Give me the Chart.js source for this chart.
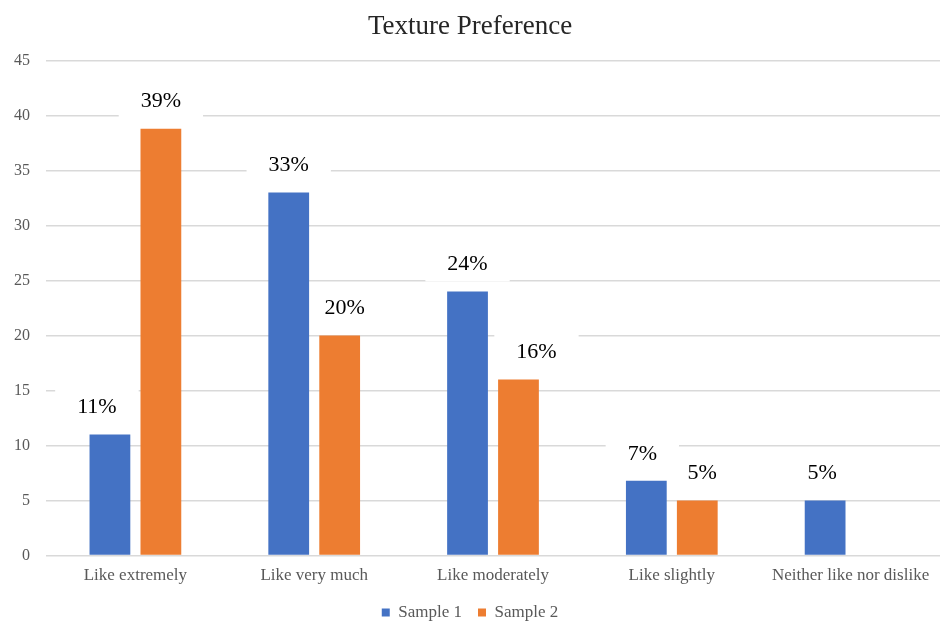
<!DOCTYPE html>
<html>
<head>
<meta charset="utf-8">
<script src="https://cdn.jsdelivr.net/npm/chart.js@4/dist/chart.umd.min.js"></script>
<style>
  html, body { margin: 0; padding: 0; background: #fff; }
  #wrap { width: 942px; height: 622px; }
</style>
</head>
<body>
<div id="wrap"><canvas id="chart"></canvas></div>
<script>
const categories = ['Like extremely', 'Like very much', 'Like moderately', 'Like slightly', 'Neither like nor dislike'];
const sample1 = [11, 33, 24, 6.8, 5];
const sample2 = [38.8, 20, 16, 5, 0];
const seriesNames = ['Sample 1', 'Sample 2'];

const serif = '"Liberation Serif", "Times New Roman", serif';

// labels above each bar, on a white box that hides the gridlines behind it
const barLabels = {
    id: 'barLabels',
    beforeDatasetsDraw(chart, args, opts) {
        const ctx = chart.ctx;
        ctx.save();
        ctx.font = opts.font;
        chart.data.datasets.forEach((ds, i) => {
            chart.getDatasetMeta(i).data.forEach((bar, j) => {
                const v = ds.data[j];
                if (!v) return;
                const text = Math.round(v) + '%';
                const x = bar.x + opts.shift[i][j];
                const y = bar.y - opts.lift;
                const w = ctx.measureText(text).width + 44;
                ctx.fillStyle = '#fff';
                ctx.fillRect(x - w / 2, y - 19, w, 36);
            });
        });
        ctx.restore();
    },
    afterDatasetsDraw(chart, args, opts) {
        const ctx = chart.ctx;
        ctx.save();
        ctx.font = opts.font;
        ctx.fillStyle = '#000';
        ctx.textAlign = 'center';
        ctx.textBaseline = 'middle';
        chart.data.datasets.forEach((ds, i) => {
            chart.getDatasetMeta(i).data.forEach((bar, j) => {
                const v = ds.data[j];
                if (!v) return;
                ctx.fillText(Math.round(v) + '%', bar.x + opts.shift[i][j], bar.y - opts.lift);
            });
        });
        ctx.restore();
    }
};

new Chart(document.getElementById('chart').getContext('2d'), {
    type: 'bar',
    data: {
        labels: categories,
        datasets: [
            { label: seriesNames[0], data: sample1, backgroundColor: '#4472C4' },
            { label: seriesNames[1], data: sample2, backgroundColor: '#ED7D31' }
        ]
    },
    options: {
        responsive: true,
        maintainAspectRatio: false,
        animation: false,
        categoryPercentage: 0.57,
        barPercentage: 0.8,
        layout: { padding: { left: 0, right: 2, top: 7, bottom: -9 } },
        scales: {
            x: {
                grid: { display: false },
                border: { display: false },
                ticks: { color: '#595959', font: { family: serif, size: 17 }, padding: 2 }
            },
            y: {
                min: 0,
                max: 45,
                afterFit(scale) { scale.width = 46; },
                ticks: { stepSize: 5, color: '#595959', font: { family: serif, size: 16 }, padding: 16 },
                grid: { color: '#d9d9d9', lineWidth: 1.5, drawTicks: false },
                border: { display: false }
            }
        },
        plugins: {
            title: {
                display: true,
                text: 'Texture Preference',
                color: '#262626',
                font: { family: serif, size: 27, weight: 'normal' },
                padding: { top: 4, bottom: 17 }
            },
            legend: {
                position: 'bottom',
                labels: {
                    boxWidth: 8,
                    boxHeight: 8,
                    padding: 16,
                    color: '#595959',
                    font: { family: serif, size: 17 }
                }
            },
            tooltip: { enabled: false },
            barLabels: {
                font: '22px ' + serif,
                lift: 27,
                shift: [[-13, 0, 0, -4, -3], [0, 5, 18, 5, 0]]
            }
        }
    },
    plugins: [barLabels]
});
</script>
</body>
</html>
